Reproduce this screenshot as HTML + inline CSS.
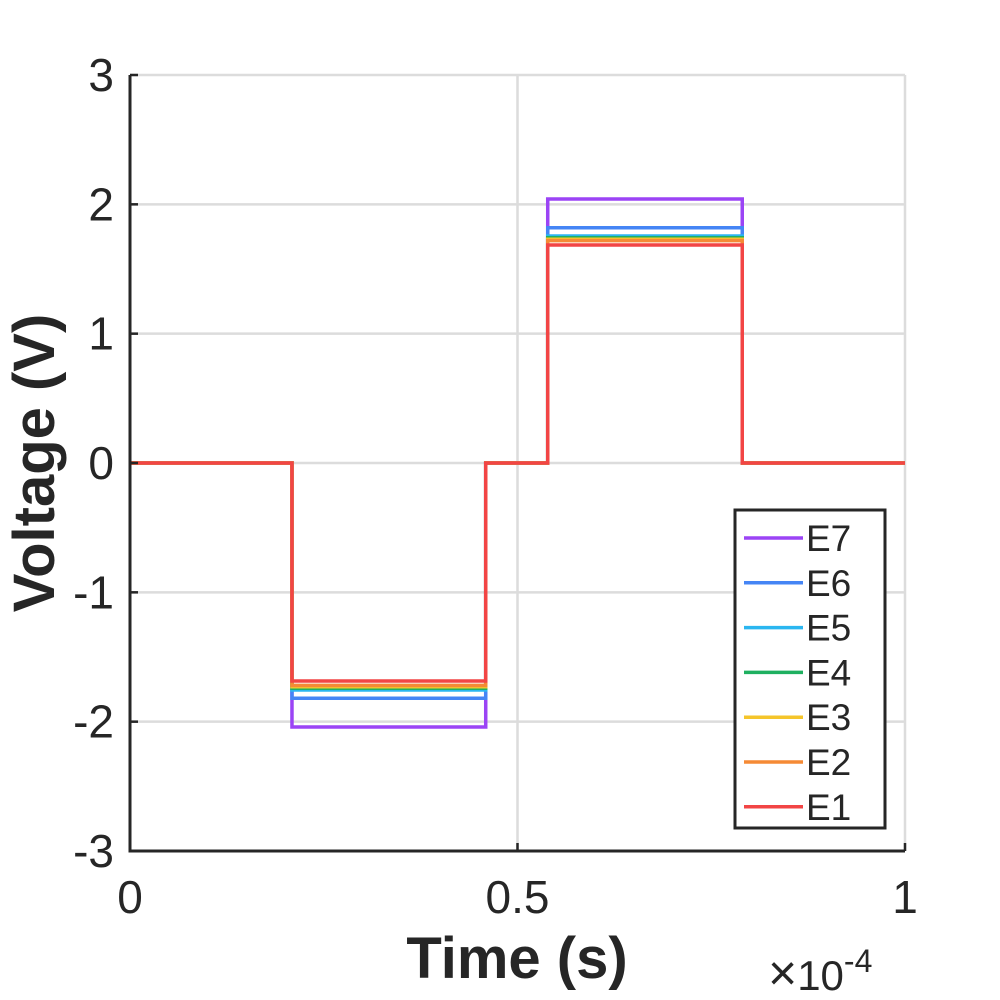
<!DOCTYPE html>
<html><head><meta charset="utf-8"><style>body{margin:0;background:#fff}svg{display:block}text{font-family:"Liberation Sans",Arial,sans-serif;fill:#262626}</style></head>
<body>
<svg id="chart" width="1000" height="1000">
<g id="grid"></g>
<g id="series"></g>
<g id="axes"></g>
<text x="517" y="978" font-size="58" font-weight="bold" text-anchor="middle">Time (s)</text>
<text transform="translate(54,463) rotate(-90)" font-size="58" font-weight="bold" text-anchor="middle">Voltage (V)</text>
<text x="768" y="990" font-size="42"><tspan font-size="50">×</tspan>10<tspan dy="-18" font-size="32">-4</tspan></text>
<g id="legend"></g>
</svg>
<script>
const names=["E7","E6","E5","E4","E3","E2","E1"];
const colors=["#9b44f5","#4585f5","#2bb6f0","#1fb060","#f5c52a","#f58a35","#f24545"];
const amplitudes=[2.041,1.819,1.755,1.742,1.730,1.719,1.686];
const pulseTimes=[0.209,0.459,0.539,0.790];
const xTicks=[0,0.5,1];
const yTicks=[-3,-2,-1,0,1,2,3];
const X0=130,X1=905,Y0=851,Y1=75;
const sx=v=>X0+(v-0)/(1-0)*(X1-X0);
const sy=v=>Y0-(v+3)/6*(Y0-Y1);
const NS="http://www.w3.org/2000/svg";
function mk(t,a,p){const e=document.createElementNS(NS,t);for(const k in a)e.setAttribute(k,a[k]);p.appendChild(e);return e;}
const grid=document.getElementById('grid'),axes=document.getElementById('axes'),ser=document.getElementById('series'),leg=document.getElementById('legend');
xTicks.forEach(v=>{const l=mk('line',{x1:sx(v),x2:sx(v),y1:Y1,y2:Y0,stroke:'#dcdcdc','stroke-width':2.5},grid);

const tk=mk('line',{x1:sx(v),x2:sx(v),y1:Y0,y2:Y0-8,stroke:'#262626','stroke-width':2.5},axes);

const t=mk('text',{x:sx(v),y:Y0+62,'font-size':46,'text-anchor':'middle'},axes);t.textContent=String(v);
});
yTicks.forEach(v=>{const l=mk('line',{x1:X0,x2:X1,y1:sy(v),y2:sy(v),stroke:'#dcdcdc','stroke-width':2.5},grid);

const tk=mk('line',{x1:X0,x2:X0+8,y1:sy(v),y2:sy(v),stroke:'#262626','stroke-width':2.5},axes);

const t=mk('text',{x:X0-16,y:sy(v)+16,'font-size':46,'text-anchor':'end'},axes);t.textContent=String(v);
});
const ax=mk('path',{d:`M${X0},${Y1}V${Y0}H${X1}`,fill:'none',stroke:'#262626','stroke-width':3},axes);

names.forEach((n,i)=>{const a=amplitudes[i],[t1,t2,t3,t4]=pulseTimes;
const d=`M${sx(0)},${sy(0)}H${sx(t1)}V${sy(-a)}H${sx(t2)}V${sy(0)}H${sx(t3)}V${sy(a)}H${sx(t4)}V${sy(0)}H${sx(1)}`;
const p=mk('path',{d,fill:'none',stroke:colors[i],'stroke-width':3.5},ser);
});
const box=mk('rect',{x:735,y:510,width:150,height:318,fill:'#fff',stroke:'#262626','stroke-width':3},leg);

names.forEach((n,i)=>{const y=538+i*44.8;
const g=mk('g',{},leg);
mk('line',{x1:744,x2:803,y1:y,y2:y,stroke:colors[i],'stroke-width':3.5},g);
const t=mk('text',{x:806,y:y+13,'font-size':37},g);t.textContent=n;});
</script>
</body></html>
